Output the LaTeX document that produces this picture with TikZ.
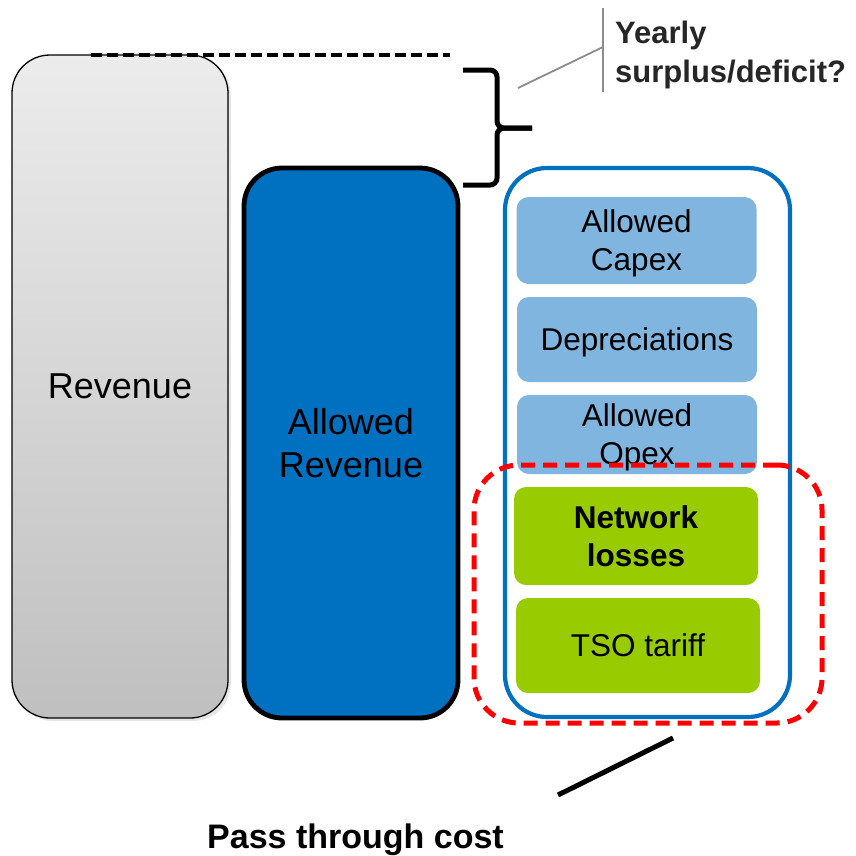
\documentclass[tikz,border=0pt]{standalone}
\usepackage{fontspec}
\setmainfont{Liberation Sans}
\usepackage{tikz}
\usetikzlibrary{shadows}
\definecolor{tsoblue}{HTML}{0070C0}
\definecolor{costblue}{HTML}{7FB5DE}
\definecolor{costgreen}{HTML}{99CC00}
\definecolor{notegray}{HTML}{262626}

\begin{document}
\begin{tikzpicture}[
            x=1pt, y=-1pt,
            bar/.style={rounded corners=38pt, align=center, inner sep=0pt, font=\fontsize{36}{43}\selectfont},
            cost/.style={rounded corners=12pt, align=center, inner sep=0pt, text depth=0pt, minimum width=240pt, fill=costblue, font=\fontsize{31.5}{38}\selectfont},
            pass/.style={cost, fill=costgreen},
            leader/.style={line width=1.8pt, draw=gray!90}
        ]
        \useasboundingbox (0,0) rectangle (856,855);

        \node[bar, draw=black, line width=1.3pt, top color=gray!15, bottom color=gray!50,
              drop shadow={opacity=0.2, shadow xshift=3pt, shadow yshift=-3pt},
              minimum width=216pt, minimum height=663pt] (rev) at (120,386.5) {Revenue};
        \node[bar, draw=black, line width=4.8pt, fill=tsoblue,
              minimum width=214pt, minimum height=550pt] (allowed) at (351,443) {Allowed\\Revenue};
        \node[draw=tsoblue, line width=4.2pt, rounded corners=42pt,
              minimum width=285pt, minimum height=549pt] (costs) at (647.5,442.5) {};

        \node[cost, minimum height=87pt] (capex) at (636.5,240.5) {Allowed\\Capex};
        \node[cost, minimum height=85pt] (depr) at (637,339.5) {Depreciations};
        \node[cost, minimum height=79pt] (opex) at (637,434.5) {Allowed\\Opex};
        \node[pass, minimum width=244pt, minimum height=98pt, font=\fontsize{31.5}{38}\selectfont\bfseries] (losses) at (636,536) {Network\\losses};
        \node[pass, minimum width=244pt, minimum height=95pt] (tso) at (638,645.5) {TSO tariff};

        \node[draw=red, line width=5pt, dash pattern=on 14pt off 8pt, rounded corners=45pt,
              minimum width=348pt, minimum height=258pt] (through) at (648,594) {};

        % surplus / deficit bracket
        \coordinate (dashstart) at (91,55);
        \coordinate (dashend) at (450,55);
        \draw[line width=4pt, dash pattern=on 11pt off 5pt] (dashstart) -- (dashend);
        \coordinate (tip) at (532,128);
        \draw[line width=5pt, rounded corners=7pt] (463,70) -- (497,70) -- (497,128) -- (tip);
        \draw[line width=5pt, rounded corners=7pt] (tip) -- (497,128) -- (497,185) -- (463,185);

        \coordinate (bartop) at (603,8);
        \coordinate (barbot) at (603,92);
        \coordinate (lead) at (518,88);
        \coordinate (leadend) at (603,47);
        \draw[leader] (bartop) -- (barbot);
        \draw[leader] (lead) -- (leadend);
        \node[anchor=west, inner sep=0pt, align=left, text=notegray,
              font=\fontsize{31}{39}\selectfont\bfseries] (yearly) at (615,54.5) {Yearly\\surplus/deficit?};

        % pass through pointer
        \coordinate (ptr) at (673,738);
        \coordinate (ptrend) at (558,795);
        \draw[line width=5pt] (ptr) -- (ptrend);
        \node[anchor=base west, inner sep=0pt, font=\fontsize{34}{40}\selectfont\bfseries] (passlabel) at (207,848) {Pass through cost};
    \end{tikzpicture}
\end{document}
